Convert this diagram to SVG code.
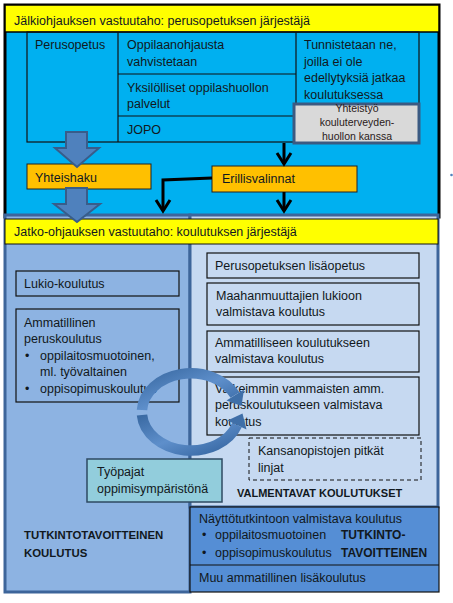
<svg xmlns="http://www.w3.org/2000/svg" width="453" height="603" viewBox="0 0 453 603">
<defs>
<style>
text{font-family:"Liberation Sans",Arial,sans-serif;font-size:12.5px;fill:#111820}
.b{font-weight:bold;font-size:11.4px}
.sm{font-size:10.5px;text-anchor:middle;fill:#2a1a1a}
.ln{fill:none;stroke:#111;stroke-width:1.2}
.blk{fill:#4f81bd;stroke:#385d8a;stroke-width:2}
.org{fill:#ffc000;stroke:#222;stroke-width:1}
.con{fill:none;stroke:#000;stroke-width:3}
</style>
<marker id="ah" markerUnits="userSpaceOnUse" markerWidth="16" markerHeight="18" refX="12" refY="8" orient="auto" overflow="visible">
<path d="M1 1 L12 8 L1 15" fill="none" stroke="#000" stroke-width="3"/>
</marker>
<linearGradient id="cg" x1="0" y1="0" x2="1" y2="1">
<stop offset="0" stop-color="#3a6aa3"/>
<stop offset="0.5" stop-color="#5e8fcb"/>
<stop offset="1" stop-color="#3565a0"/>
</linearGradient>
</defs>

<g id="top-section">
<rect x="5" y="5" width="434" height="212" fill="#00b0f0" stroke="#000" stroke-width="3"/>
<rect x="5" y="5" width="434" height="27" fill="#ffff00" stroke="#000" stroke-width="1.5"/>
<text x="14" y="25">Jälkiohjauksen vastuutaho: perusopetuksen järjestäjä</text>
</g>

<g id="table">
<rect class="ln" x="27" y="32" width="392" height="110"/>
<line class="ln" x1="118" y1="32" x2="118" y2="142"/>
<line class="ln" x1="296" y1="32" x2="296" y2="142"/>
<line class="ln" x1="118" y1="74" x2="296" y2="74"/>
<line class="ln" x1="118" y1="116" x2="296" y2="116"/>
</g>
<g id="perusopetus"><text x="35" y="49">Perusopetus</text></g>
<g id="oppilaanohjaus"><text x="127" y="49">Oppilaanohjausta</text><text x="127" y="66">vahvistetaan</text></g>
<g id="oppilashuolto"><text x="127" y="92">Yksilölliset oppilashuollon</text><text x="127" y="108">palvelut</text></g>
<g id="jopo"><text x="127" y="134">JOPO</text></g>
<g id="tunnistetaan"><text x="304" y="49">Tunnistetaan ne,</text><text x="304" y="66">joilla ei ole</text><text x="304" y="82">edellytyksiä jatkaa</text><text x="304" y="99">koulutuksessa</text></g>
<g id="yhteistyo">
<rect x="294" y="104" width="125" height="39" fill="#d9d9d9" stroke="#3b5a82" stroke-width="3"/>
<text class="sm" x="357" y="112">Yhteistyö</text>
<text class="sm" x="357" y="126">kouluterveyden-</text>
<text class="sm" x="357" y="140">huollon kanssa</text>
</g>

<g id="yhteishaku">
<rect class="org" x="27" y="164" width="124" height="25"/>
<text x="35" y="182">Yhteishaku</text>
</g>
<g id="erillisvalinnat">
<rect class="org" x="212" y="166" width="145" height="26"/>
<text x="222" y="183">Erillisvalinnat</text>
</g>
<circle cx="451.5" cy="175" r="1.3" fill="#4f81bd"/>

<g id="bottom-section">
<rect x="5" y="215" width="185" height="377" fill="#8db3e2" stroke="#3d659a" stroke-width="3"/>
<rect x="190" y="215" width="248" height="292" fill="#c6d9f1" stroke="#3d659a" stroke-width="3"/>
<rect x="5" y="219" width="433" height="25" fill="#ffff00" stroke="#111" stroke-width="1"/>
<text x="14" y="236">Jatko-ohjauksen vastuutaho: koulutuksen järjestäjä</text>
</g>

<g id="lukio">
<rect class="ln" x="16" y="271" width="163" height="25"/>
<text x="24" y="288">Lukio-koulutus</text>
</g>
<g id="ammatillinen">
<rect class="ln" x="16" y="309" width="163" height="93"/>
<text x="24" y="327">Ammatillinen</text>
<text x="24" y="343">peruskoulutus</text>
<text x="25" y="360">•</text><text x="40" y="360">oppilaitosmuotoinen,</text>
<text x="40" y="376">ml. työvaltainen</text>
<text x="25" y="393">•</text><text x="40" y="393">oppisopimuskoulutus</text>
</g>

<g id="lisaopetus">
<rect class="ln" x="207" y="253" width="212" height="25"/>
<text x="215" y="270">Perusopetuksen lisäopetus</text>
</g>
<g id="maahanmuuttajat">
<rect class="ln" x="207" y="283" width="212" height="42"/>
<text x="216" y="300">Maahanmuuttajien lukioon</text>
<text x="216" y="316">valmistava koulutus</text>
</g>
<g id="ammatilliseen">
<rect class="ln" x="207" y="331" width="212" height="41"/>
<text x="215" y="347">Ammatilliseen koulutukseen</text>
<text x="215" y="363">valmistava koulutus</text>
</g>
<g id="vaikeimmin">
<rect class="ln" x="207" y="377" width="212" height="58"/>
<text x="215" y="393">Vaikeimmin vammaisten amm.</text>
<text x="215" y="409">peruskoulutukseen valmistava</text>
<text x="215" y="426">koulutus</text>
</g>
<g id="kansanopistot">
<rect x="249" y="438" width="172" height="42" fill="none" stroke="#111" stroke-width="1" stroke-dasharray="4 3"/>
<text x="258" y="455">Kansanopistojen pitkät</text>
<text x="258" y="472">linjat</text>
</g>
<g id="tyopajat">
<rect x="87" y="459" width="135" height="43" fill="#92cddc" stroke="#2e4a62" stroke-width="1.5"/>
<text x="97" y="476">Työpajat</text>
<text x="97" y="493">oppimisympäristönä</text>
</g>
<g id="valmentavat"><text class="b" x="237" y="497" style="font-size:11px">VALMENTAVAT KOULUTUKSET</text></g>
<g id="tutkintotavoitteinen"><text class="b" x="24" y="539">TUTKINTOTAVOITTEINEN</text><text class="b" x="24" y="557">KOULUTUS</text></g>

<g id="naytto">
<rect x="190" y="507" width="249" height="85" fill="#558ed5" stroke="#111" stroke-width="1.2"/>
<line x1="190" y1="565" x2="439" y2="565" stroke="#111" stroke-width="1.2"/>
<text x="199" y="523">Näyttötutkintoon valmistava koulutus</text>
<text x="202" y="539">•</text><text x="215" y="539">oppilaitosmuotoinen</text>
<text x="202" y="557">•</text><text x="215" y="557">oppisopimuskoulutus</text>
<text class="b" x="341" y="539" style="font-size:12px">TUTKINTO-</text>
<text class="b" x="341" y="557" style="font-size:12px">TAVOITTEINEN</text>
<text x="199" y="582">Muu ammatillinen lisäkoulutus</text>
</g>

<g id="connectors">
<polygon class="blk" points="66,132 87,132 87,148 99,148 77,167 55,148 66,148"/>
<polygon class="blk" points="66,188 87,188 87,204 100,204 77,222 54,204 66,204"/>
<path class="con" d="M284 143 L284 164" marker-end="url(#ah)"/>
<path class="con" d="M212 178 L163 180 L163 211" marker-end="url(#ah)"/>
<path class="con" d="M284 192 L284 211" marker-end="url(#ah)"/>
<path d="M142 410 A49 38.5 0 0 1 235 395" fill="none" stroke="url(#cg)" stroke-width="10.5"/>
<polygon points="244,389.5 226.5,400.5 241.5,406" fill="#3f6fa8"/>
<path d="M142 415 A49 38.5 0 0 0 237 425" fill="none" stroke="url(#cg)" stroke-width="10.5"/>
<polygon points="246.5,429.5 227.5,420.5 242.5,413.5" fill="#3f6fa8"/>
</g>
</svg>
